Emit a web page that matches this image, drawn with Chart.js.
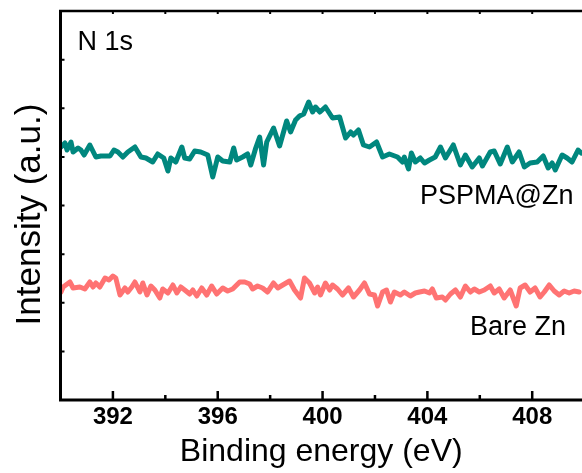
<!DOCTYPE html>
<html>
<head>
<meta charset="utf-8">
<script src="https://cdn.jsdelivr.net/npm/chart.js@4.4.1/dist/chart.umd.min.js"></script>
<style>
  html, body { margin: 0; padding: 0; background: #ffffff; }
  #wrap { width: 582px; height: 473px; position: relative; }
</style>
</head>
<body>
<div id="wrap"><canvas id="c" width="582" height="473"></canvas></div>
<script>
// ---- data ----
const xMajorTicks = [392, 396, 400, 404, 408];
const xMinorTicks = [390, 394, 398, 402, 406];
const panelLabel = "N 1s";
const seriesNames = ["PSPMA@Zn", "Bare Zn"];
const xTitle = "Binding energy (eV)";
const yTitle = "Intensity (a.u.)";

const pspmaEnergy = [390.02,390.17,390.25,390.40,390.48,390.67,390.78,390.90,391.12,391.35,391.54,391.89,392.04,392.19,392.38,392.57,392.84,393.07,393.26,393.52,393.71,393.94,394.10,394.21,394.40,394.63,394.74,394.93,395.12,395.35,395.62,395.81,396.00,396.19,396.46,396.61,396.72,396.95,397.14,397.26,397.45,397.60,397.75,397.87,398.13,398.36,398.63,398.78,398.97,399.12,399.28,399.47,399.62,399.73,399.90,400.11,400.38,400.65,400.88,401.07,401.18,401.37,401.56,401.79,402.06,402.29,402.55,402.86,403.05,403.12,403.28,403.39,403.54,403.73,403.89,404.08,404.30,404.50,404.69,404.99,405.26,405.45,405.71,405.98,406.10,406.40,406.55,406.78,407.05,407.24,407.50,407.70,407.92,408.19,408.42,408.61,408.76,408.88,409.14,409.33,409.52,409.75,409.87];
const pspmaIntensity = [253,257,250,258,248,252,250,245,255,243,244,244,250,248,243,248,253,243,242,238,246,242,229,242,238,253,242,241,249,248,245,223,243,239,238,252,240,243,246,235,252,263,235,258,272,254,279,268,280,284,286,298,288,293,288,293,282,283,262,268,265,270,255,253,258,243,246,243,238,243,231,247,238,242,237,240,243,253,242,255,235,245,233,242,234,248,249,236,253,238,248,233,237,238,244,232,237,230,245,242,238,250,247];

const bareEnergy = [390.02,390.10,390.36,390.48,390.74,390.93,391.12,391.24,391.35,391.50,391.70,391.85,392.00,392.11,392.27,392.46,392.57,392.72,392.84,393.03,393.14,393.30,393.45,393.60,393.79,393.90,394.10,394.29,394.44,394.59,394.74,394.93,395.05,395.20,395.39,395.58,395.77,395.96,396.19,396.38,396.57,396.84,397.03,397.22,397.33,397.52,397.71,397.90,398.13,398.29,398.48,398.74,398.93,399.16,399.31,399.50,399.70,399.81,399.92,400.11,400.27,400.38,400.57,400.76,400.99,401.18,401.41,401.60,401.79,401.98,402.10,402.29,402.44,402.59,402.74,402.97,403.12,403.35,403.54,403.70,403.89,404.08,404.19,404.34,404.57,404.69,404.88,405.07,405.26,405.45,405.64,405.79,405.98,406.17,406.40,406.55,406.74,406.93,407.16,407.39,407.54,407.73,407.92,408.11,408.30,408.46,408.65,408.84,409.03,409.22,409.41,409.60,409.79];
const bareIntensity = [108,113,118,112,113,111,118,113,117,113,122,120,124,122,105,112,108,113,118,108,117,105,114,110,102,111,107,115,107,113,110,106,110,104,112,105,114,106,112,109,111,118,118,116,111,114,112,108,117,112,115,119,110,102,122,117,107,113,105,117,110,115,111,105,112,103,110,117,106,105,94,108,110,98,108,105,108,104,107,108,109,107,111,102,103,100,106,110,103,114,108,111,108,110,114,107,111,102,110,94,112,115,108,112,103,108,115,109,105,109,107,109,108];

const xMin = 390, xMax = 409.9;
const yMin = 0, yMax = 389, yTickCount = 8;

function pairs(xs, ys) { return xs.map((x, i) => ({ x: x, y: ys[i] })); }

const FONT = "'Liberation Sans', Arial, sans-serif";

const framePlugin = {
  id: 'frame',
  afterDraw(chart) {
    const ctx = chart.ctx;
    const a = chart.chartArea;
    const xs = chart.scales.x, ys = chart.scales.y;
    ctx.save();
    ctx.strokeStyle = '#000';
    ctx.lineCap = 'butt';
    // frame (left, bottom, top)
    ctx.lineWidth = 3;
    ctx.beginPath();
    ctx.moveTo(a.left, a.top); ctx.lineTo(a.left, a.bottom + 1.5);
    ctx.moveTo(a.left - 1.5, a.bottom); ctx.lineTo(a.right, a.bottom);
    ctx.stroke();
    ctx.lineWidth = 2.5;
    ctx.beginPath();
    ctx.moveTo(a.left - 1.5, a.top); ctx.lineTo(a.right, a.top);
    ctx.stroke();
    // bottom ticks
    ctx.lineWidth = 2.5;
    ctx.beginPath();
    xMajorTicks.forEach(v => { const p = xs.getPixelForValue(v); ctx.moveTo(p, a.bottom); ctx.lineTo(p, a.bottom - 9); });
    xMinorTicks.forEach(v => { if (v <= xMin) return; const p = xs.getPixelForValue(v); ctx.moveTo(p, a.bottom); ctx.lineTo(p, a.bottom - 5); });
    ctx.stroke();
    // top ticks
    ctx.lineWidth = 2;
    ctx.beginPath();
    xMajorTicks.concat(xMinorTicks).forEach(v => { if (v <= xMin) return; const p = xs.getPixelForValue(v); ctx.moveTo(p, a.top); ctx.lineTo(p, a.top + 3); });
    ctx.stroke();
    // left ticks
    ctx.lineWidth = 2;
    ctx.beginPath();
    for (let k = 1; k < yTickCount; k++) {
      const p = ys.getPixelForValue(yMin + (yMax - yMin) * k / yTickCount);
      ctx.moveTo(a.left, p); ctx.lineTo(a.left + 4, p);
    }
    ctx.stroke();
    // annotations
    ctx.fillStyle = '#000';
    ctx.textBaseline = 'middle';
    ctx.textAlign = 'left';
    ctx.font = "27px " + FONT;
    ctx.fillText(panelLabel, a.left + 17, a.top + 32);
    ctx.fillText(seriesNames[0], 420, ys.getPixelForValue(203));
    ctx.fillText(seriesNames[1], 470, ys.getPixelForValue(72));
    // y title
    ctx.save();
    ctx.translate(30, (a.top + a.bottom) / 2 + 9);
    ctx.rotate(-Math.PI / 2);
    ctx.textAlign = 'center';
    ctx.textBaseline = 'middle';
    ctx.font = "35px " + FONT;
    ctx.fillText(yTitle, 0, 0);
    ctx.restore();
    ctx.restore();
  }
};

new Chart(document.getElementById('c'), {
  type: 'line',
  data: {
    datasets: [
      { label: seriesNames[0], data: pairs(pspmaEnergy, pspmaIntensity), borderColor: '#00877e', borderWidth: 5, pointRadius: 0, tension: 0, borderJoinStyle: 'round', borderCapStyle: 'round' },
      { label: seriesNames[1], data: pairs(bareEnergy, bareIntensity), borderColor: '#ff7373', borderWidth: 5, pointRadius: 0, tension: 0, borderJoinStyle: 'round', borderCapStyle: 'round' }
    ]
  },
  options: {
    responsive: false,
    animation: false,
    events: [],
    layout: { padding: { top: 11, right: 0, left: 0, bottom: 0 } },
    plugins: { legend: { display: false }, tooltip: { enabled: false } },
    scales: {
      x: {
        type: 'linear', min: xMin, max: xMax,
        afterBuildTicks: (s) => { s.ticks = xMinorTicks.concat(xMajorTicks).sort((a, b) => a - b).map(v => ({ value: v })); },
        afterFit: (s) => { s.height = 73; },
        grid: { display: false, drawTicks: false },
        border: { display: false },
        ticks: {
          maxRotation: 0, autoSkip: false, padding: 3, color: '#000',
          font: { family: FONT, size: 24, weight: 'bold' },
          callback: (v) => (xMajorTicks.includes(v) ? String(v) : '')
        },
        title: { display: true, text: xTitle, color: '#000', font: { family: FONT, size: 32 }, padding: { top: 0, bottom: 2 } }
      },
      y: {
        type: 'linear', min: yMin, max: yMax,
        afterFit: (s) => { s.width = 60.5; },
        grid: { display: false, drawTicks: false },
        border: { display: false },
        ticks: { display: false },
        title: { display: false }
      }
    }
  },
  plugins: [framePlugin]
});
</script>
</body>
</html>
